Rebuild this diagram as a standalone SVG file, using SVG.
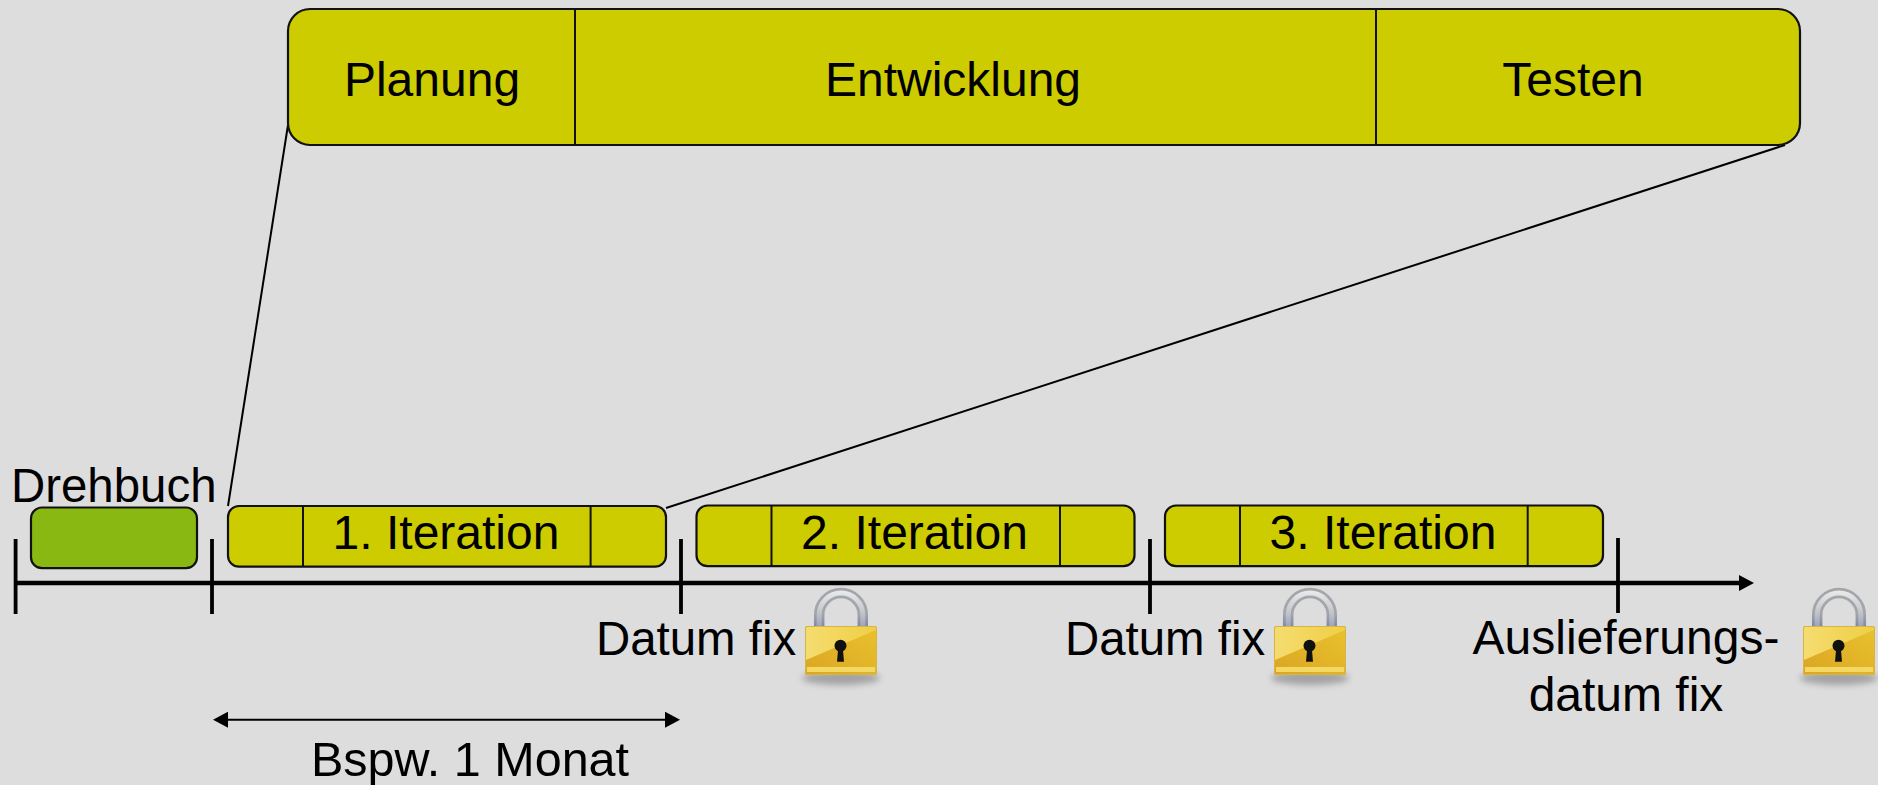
<svg xmlns="http://www.w3.org/2000/svg" xmlns:xlink="http://www.w3.org/1999/xlink" width="1878" height="785" viewBox="0 0 1878 785">
<style>
text{font-family:"Liberation Sans",Arial,sans-serif;fill:#000;font-size:48px}
.m{text-anchor:middle}
.s{font-size:47.4px}
.box{fill:#cccc00;stroke:#111;stroke-width:2.2}
.div{stroke:#111;stroke-width:2;fill:none}
.thin{stroke:#000;stroke-width:2;fill:none}
.tick{stroke:#000;stroke-width:3.8;fill:none}
</style>
<defs>
<marker id="ah" markerUnits="userSpaceOnUse" markerWidth="16" markerHeight="16" refX="0" refY="8" orient="auto-start-reverse"><path d="M0 0L15 8L0 16Z" fill="#000"/></marker>
<linearGradient id="shA" gradientUnits="userSpaceOnUse" x1="0" x2="0" y1="-38" y2="2"><stop offset="0" stop-color="#a4a7aa"/><stop offset=".65" stop-color="#a2a5aa"/><stop offset="1" stop-color="#7c84a8"/></linearGradient>
<linearGradient id="shB" gradientUnits="userSpaceOnUse" x1="0" x2="0" y1="-38" y2="2"><stop offset="0" stop-color="#eeeff0"/><stop offset=".6" stop-color="#c4c6ca"/><stop offset="1" stop-color="#9aa0b8"/></linearGradient>
<linearGradient id="bd" x1="0" x2="1" y1="1" y2="0"><stop offset="0" stop-color="#dba522"/><stop offset="1" stop-color="#e9c22e"/></linearGradient>
<linearGradient id="bdL" x1="0" x2="1" y1="0" y2="0"><stop offset="0" stop-color="#f5dc70"/><stop offset="1" stop-color="#efcf45"/></linearGradient>
<filter id="bl" x="-20%" y="-80%" width="140%" height="260%"><feGaussianBlur stdDeviation="3"/></filter>
<g id="lockicon">
<ellipse cx="36" cy="52" rx="39" ry="7" fill="#8a8a8a" opacity=".7" filter="url(#bl)"/>
<path d="M14.2 2V-11A21.8 22 0 0 1 57.8 -11V2" fill="none" stroke="url(#shA)" stroke-width="10.5"/>
<path d="M14.2 2V-11A21.8 22 0 0 1 57.8 -11V2" fill="none" stroke="url(#shB)" stroke-width="5"/>
<rect x="0" y="0" width="72" height="49" rx="2" fill="url(#bd)"/>
<path d="M1 1H71V4L1 34Z" fill="url(#bdL)"/>
<rect x="2" y="41" width="68" height="5" fill="#f3d964"/>
<rect x="0.5" y="0.5" width="71" height="48" rx="2" fill="none" stroke="#d8b443"/>
<circle cx="35.5" cy="19.7" r="6" fill="#111"/>
<path d="M33.2 22h4.6l1.2 13.7h-7z" fill="#111"/>
</g>
</defs>
<rect width="1878" height="785" fill="#dddddd"/>
<g id="connectors">
<path class="thin" d="M288 125L228 506"/>
<path class="thin" d="M1785 145L666 508"/>
<path d="M15.6 583H1739" stroke="#000" stroke-width="4.4" marker-end="url(#ah)"/>
<path d="M228 719.7H665" class="thin" stroke-width="2.4" marker-start="url(#ah)" marker-end="url(#ah)"/>
<path class="tick" d="M15.6 539V614M212 539V614M681 539V614M1150 539V614M1618 538V613"/>
</g>
<g id="phases">
<rect class="box" x="288" y="9" width="1512" height="136" rx="22"/>
<path class="div" d="M575 9V145M1376 9V145"/>
<text class="m" x="432" y="96">Planung</text>
<text class="m" x="953" y="96">Entwicklung</text>
<text class="m" x="1573" y="96">Testen</text>
</g>
<g id="drehbuch">
<rect x="31" y="507.5" width="166" height="60.7" rx="11" fill="#88b811" stroke="#111" stroke-width="2.2"/>
<text class="s" x="11" y="502">Drehbuch</text>
</g>
<g id="iteration1">
<rect class="box" x="228" y="506" width="438" height="60.7" rx="11"/>
<path class="div" d="M303 506V566.7M590.6 506V566.7"/>
<text class="m" x="446" y="549">1. Iteration</text>
</g>
<g id="iteration2">
<rect class="box" x="696.5" y="505.5" width="438" height="60.7" rx="11"/>
<path class="div" d="M771.5 505.5V566.2M1060 505.5V566.2"/>
<text class="m" x="914.5" y="549">2. Iteration</text>
</g>
<g id="iteration3">
<rect class="box" x="1165" y="505.5" width="438" height="60.7" rx="11"/>
<path class="div" d="M1240 505.5V566.2M1527.7 505.5V566.2"/>
<text class="m" x="1383" y="549">3. Iteration</text>
</g>
<g id="date1"><text class="s" x="596" y="655">Datum fix</text><use xlink:href="#lockicon" href="#lockicon" x="805" y="626"/></g>
<g id="date2"><text class="s" x="1065" y="655">Datum fix</text><use xlink:href="#lockicon" href="#lockicon" x="1274" y="626"/></g>
<g id="date3"><text class="m" x="1626" y="654">Auslieferungs-</text><text class="m" x="1626" y="711">datum fix</text><use xlink:href="#lockicon" href="#lockicon" x="1803" y="626"/></g>
<g id="duration"><text class="m" x="470" y="776" style="font-size:48.5px">Bspw. 1 Monat</text></g>
</svg>
